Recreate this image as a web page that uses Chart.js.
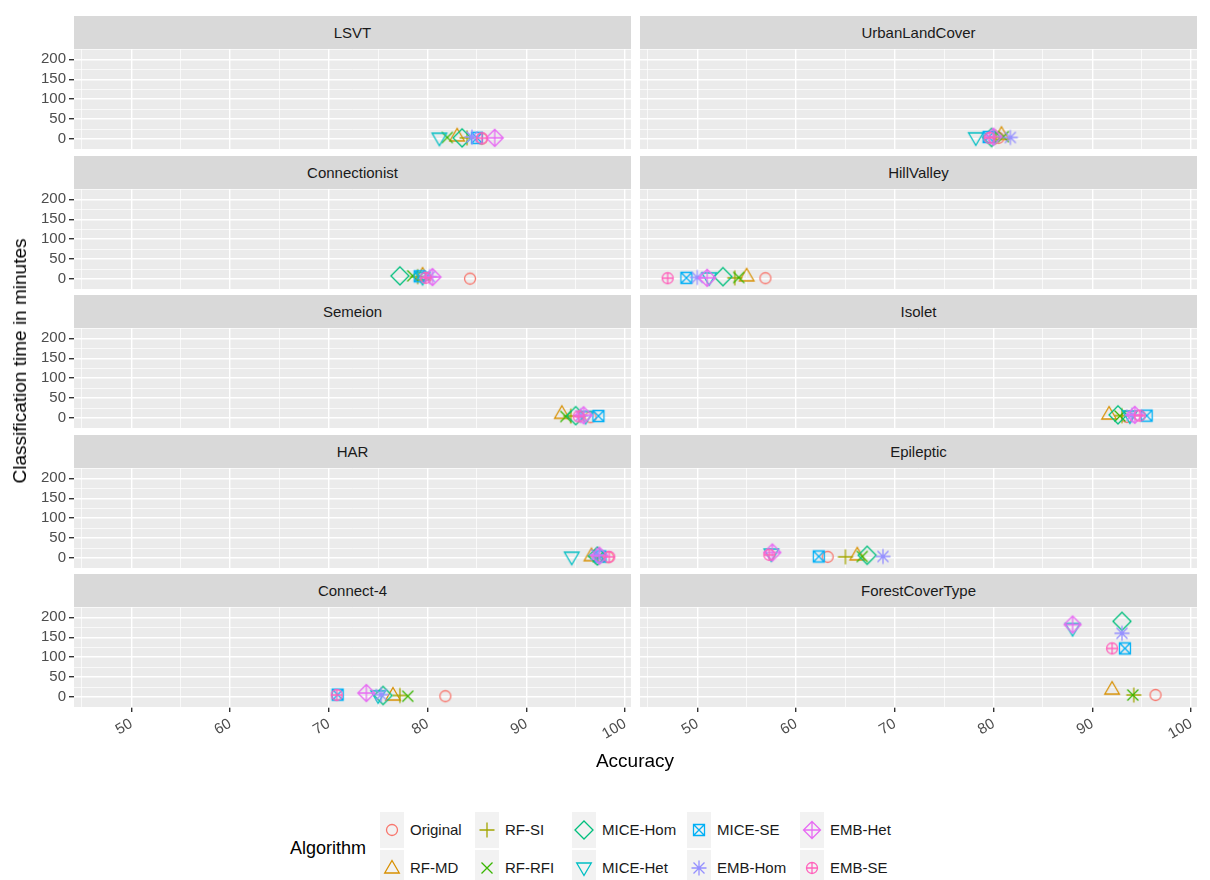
<!DOCTYPE html>
<html>
<head>
<meta charset="utf-8">
<script src="https://cdn.jsdelivr.net/npm/chart.js@4.4.1/dist/chart.umd.min.js"></script>
<style>
  body { margin: 0; background: #fff; font-family: 'Liberation Sans', Arial, sans-serif; }
  #page { position: relative; width: 1210px; height: 880px; overflow: hidden; }
  .panel { position: absolute; }
  .strip { position: absolute; background: #D9D9D9; color: #1A1A1A; font-size: 15px; text-align: center; }
  .title { position: absolute; color: #000; font-size: 19px; white-space: nowrap; }
  .key { position: absolute; background: #F2F2F2; }
  .key canvas { position: absolute; left: 0; top: 0; }
  .klabel { position: absolute; font-size: 15px; color: #1A1A1A; white-space: nowrap; }
</style>
</head>
<body>
<div id="page"></div>
<script>
// ===== DATA =====
const ALGORITHMS = ['Original', 'RF-MD', 'RF-SI', 'RF-RFI', 'MICE-Hom', 'MICE-Het', 'MICE-SE', 'EMB-Hom', 'EMB-Het', 'EMB-SE'];
const ALGO_COLORS = ['#F8766D', '#D89000', '#A3A500', '#39B600', '#00BF7D', '#00BFC4', '#00B0F6', '#9590FF', '#E76BF3', '#FF62BC'];
const ALGO_SHAPES = ['circle', 'triangle', 'plus', 'cross', 'diamond', 'triangleDown', 'squareCross', 'asterisk', 'diamondPlus', 'circlePlus'];

const X_TICKS = [50, 60, 70, 80, 90, 100];
const Y_TICKS = [0, 50, 100, 150, 200];

// accuracy (%) and classification time (minutes), one value per algorithm
const lsvtAcc          = [85.5, 83.0, 84.0, 82.0, 83.5, 81.2, 85.0, 84.5, 86.8, 85.5];
const lsvtTime         = [1, 8, 3, 4, 3, 2, 3, 5, 3, 2];
const urbanAcc         = [80.5, 80.8, 80.2, 81.0, 79.8, 78.2, 79.5, 81.7, 80.0, 79.6];
const urbanTime        = [3, 12, 5, 6, 4, 3, 5, 4, 6, 3];
const connectionistAcc = [84.3, 79.5, 79.0, 78.5, 77.2, 79.5, 79.2, 80.2, 80.5, 79.8];
const connectionistTime= [1, 10, 6, 8, 8, 4, 7, 6, 5, 3];
const hillAcc          = [56.9, 55.0, 53.8, 54.2, 52.6, 51.2, 48.9, 50.0, 51.0, 47.0];
const hillTime         = [2, 8, 3, 4, 6, 3, 3, 4, 3, 2];
const semeionAcc       = [96.5, 93.6, 94.5, 94.0, 95.0, 96.0, 97.3, 95.5, 95.8, 95.3];
const semeionTime      = [2, 12, 5, 4, 6, 4, 5, 6, 7, 4];
const isoletAcc        = [93.5, 91.7, 93.0, 92.8, 92.6, 93.8, 95.5, 94.0, 94.3, 94.8];
const isoletTime       = [3, 10, 6, 5, 8, 5, 6, 7, 8, 6];
const harAcc           = [98.3, 96.6, 97.0, 97.3, 97.2, 94.6, 97.5, 97.1, 97.4, 98.4];
const harTime          = [2, 6, 4, 3, 5, 2, 4, 8, 6, 3];
const epilepticAcc     = [63.2, 66.2, 65.0, 66.7, 67.2, 57.5, 62.3, 68.8, 57.6, 57.3];
const epilepticTime    = [3, 8, 3, 4, 7, 10, 4, 4, 14, 8];
const connect4Acc      = [81.8, 76.5, 77.2, 78.0, 75.5, 75.0, 70.9, 75.3, 73.8, 70.8];
const connect4Time     = [2, 5, 4, 2, 4, 3, 6, 6, 10, 5];
const forestAcc        = [96.4, 92.0, 94.2, 94.1, 93.0, 88.0, 93.3, 93.0, 88.0, 92.0];
const forestTime       = [5, 20, 5, 5, 190, 172, 122, 160, 182, 122];

const PANELS = [
  ['LSVT', lsvtAcc, lsvtTime], ['UrbanLandCover', urbanAcc, urbanTime],
  ['Connectionist', connectionistAcc, connectionistTime], ['HillValley', hillAcc, hillTime],
  ['Semeion', semeionAcc, semeionTime], ['Isolet', isoletAcc, isoletTime],
  ['HAR', harAcc, harTime], ['Epileptic', epilepticAcc, epilepticTime],
  ['Connect-4', connect4Acc, connect4Time], ['ForestCoverType', forestAcc, forestTime]
];

// ===== LAYOUT =====
const COL_LEFT = [74, 640];
const PANEL_W = 557;
const ROW_TOP = [49, 189, 328, 468, 607];
const PANEL_H = 100;
const STRIP_H = 33;
const Y_AXIS_W = 74;
const X_AXIS_H = 50;

Chart.defaults.font.family = "'Liberation Sans', Arial, sans-serif";
const page = document.getElementById('page');

// ggplot-like open markers drawn on small canvases
function makeMarker(shape, color) {
  const c = document.createElement('canvas');
  c.width = 26; c.height = 26;
  const g = c.getContext('2d');
  g.translate(13, 13);
  g.strokeStyle = color;
  g.lineWidth = 1.3;
  const circle = r => { g.moveTo(r, 0); g.arc(0, 0, r, 0, Math.PI * 2); };
  const plus = r => { g.moveTo(-r, 0); g.lineTo(r, 0); g.moveTo(0, -r); g.lineTo(0, r); };
  const cross = r => { g.moveTo(-r, -r); g.lineTo(r, r); g.moveTo(r, -r); g.lineTo(-r, r); };
  const diamond = r => { g.moveTo(0, -r); g.lineTo(r, 0); g.lineTo(0, r); g.lineTo(-r, 0); g.closePath(); };
  g.beginPath();
  switch (shape) {
    case 'circle': circle(5.5); break;
    case 'triangle': g.moveTo(0, -7.5); g.lineTo(7.3, 5); g.lineTo(-7.3, 5); g.closePath(); break;
    case 'triangleDown': g.moveTo(0, 7.5); g.lineTo(7.3, -5); g.lineTo(-7.3, -5); g.closePath(); break;
    case 'plus': plus(7.5); break;
    case 'cross': cross(5.5); break;
    case 'diamond': diamond(9); break;
    case 'squareCross': g.rect(-5.5, -5.5, 11, 11); cross(5.5); break;
    case 'asterisk': plus(7.5); cross(5.5); break;
    case 'diamondPlus': diamond(8.5); plus(8.5); break;
    case 'circlePlus': circle(5.5); plus(5.5); break;
  }
  g.stroke();
  return c;
}
const MARKERS = ALGO_SHAPES.map((s, i) => makeMarker(s, ALGO_COLORS[i]));

const panelBg = {
  id: 'panelBg',
  beforeDraw(chart) {
    const { ctx, chartArea: a } = chart;
    ctx.save();
    ctx.fillStyle = '#EBEBEB';
    ctx.fillRect(a.left, a.top, a.right - a.left, a.bottom - a.top);
    ctx.restore();
  }
};

function addDiv(cls, left, top, width, height, text) {
  const d = document.createElement('div');
  d.className = cls;
  Object.assign(d.style, { left: left + 'px', top: top + 'px' });
  if (width != null) d.style.width = width + 'px';
  if (height != null) { d.style.height = height + 'px'; d.style.lineHeight = height + 'px'; }
  if (text != null) d.textContent = text;
  page.appendChild(d);
  return d;
}

PANELS.forEach(([name, acc, time], p) => {
  const col = p % 2, row = Math.floor(p / 2);
  const showY = col === 0, showX = row === ROW_TOP.length - 1;
  const left = COL_LEFT[col], top = ROW_TOP[row];

  addDiv('strip', left, top - STRIP_H, PANEL_W, STRIP_H, name);

  const cw = PANEL_W + (showY ? Y_AXIS_W : 0);
  const ch = PANEL_H + (showX ? X_AXIS_H : 0);
  const wrap = addDiv('panel', left - (showY ? Y_AXIS_W : 0), top, cw, ch);
  wrap.style.lineHeight = 'normal';
  const canvas = document.createElement('canvas');
  canvas.width = cw; canvas.height = ch;
  wrap.appendChild(canvas);

  new Chart(canvas, {
    type: 'scatter',
    data: {
      datasets: ALGORITHMS.map((a, i) => ({
        label: a,
        data: [{ x: acc[i], y: time[i] }],
        pointStyle: MARKERS[i],
        pointRadius: 8,
        order: ALGORITHMS.length - i
      }))
    },
    options: {
      responsive: false,
      animation: false,
      layout: { padding: 0, autoPadding: false },
      plugins: { legend: { display: false }, tooltip: { enabled: false } },
      scales: {
        x: {
          min: 44.2, max: 100.6,
          afterFit: s => { s.height = showX ? X_AXIS_H : 0; s.paddingLeft = 0; s.paddingRight = 0; },
          border: { display: false },
          grid: {
            color: '#FFFFFF',
            lineWidth: c => X_TICKS.includes(c.tick.value) ? 1.4 : 0.7,
            drawTicks: showX,
            tickLength: 5,
            tickColor: c => X_TICKS.includes(c.tick.value) ? '#333333' : 'rgba(0,0,0,0)'
          },
          ticks: {
            display: showX, stepSize: 5, includeBounds: false, autoSkip: false,
            minRotation: 30, maxRotation: 30, padding: 3,
            color: '#4D4D4D', font: { size: 15 },
            callback: v => X_TICKS.includes(v) ? v : ''
          }
        },
        y: {
          min: -25, max: 226,
          afterFit: s => { s.width = showY ? Y_AXIS_W : 0; s.paddingTop = 0; s.paddingBottom = 0; },
          border: { display: false },
          grid: {
            color: '#FFFFFF',
            lineWidth: c => Y_TICKS.includes(c.tick.value) ? 1.4 : 0.7,
            drawTicks: showY,
            tickLength: 5,
            tickColor: c => Y_TICKS.includes(c.tick.value) ? '#333333' : 'rgba(0,0,0,0)'
          },
          ticks: {
            display: showY, stepSize: 25, includeBounds: false, autoSkip: false, padding: 3,
            color: '#4D4D4D', font: { size: 15 },
            callback: v => Y_TICKS.includes(v) ? v : ''
          }
        }
      }
    },
    plugins: [panelBg]
  });
});

// axis titles
const xt = addDiv('title', 0, 750, 1270, null, 'Accuracy');
xt.style.textAlign = 'center';
const yt = addDiv('title', 20, 361, null, null, 'Classification time in minutes');
yt.style.transform = 'translate(-50%, -50%) rotate(-90deg)';

// legend
const lt = addDiv('title', 290, 838, null, null, 'Algorithm');
lt.style.fontSize = '18px';
const LEG_LABEL_X = [410, 505, 602, 717, 830];
const LEG_ROW_Y = [830, 868];
ALGORITHMS.forEach((a, i) => {
  const col = Math.floor(i / 2), row = i % 2;
  const lx = LEG_LABEL_X[col], cy = LEG_ROW_Y[row];
  const key = addDiv('key', lx - 30, cy - 18, 24, 36);
  const mc = document.createElement('canvas');
  mc.width = 24; mc.height = 36;
  mc.getContext('2d').drawImage(MARKERS[i], -1, 5);
  key.appendChild(mc);
  addDiv('klabel', lx, cy - 10, null, 20, a);
});
</script>
</body>
</html>
